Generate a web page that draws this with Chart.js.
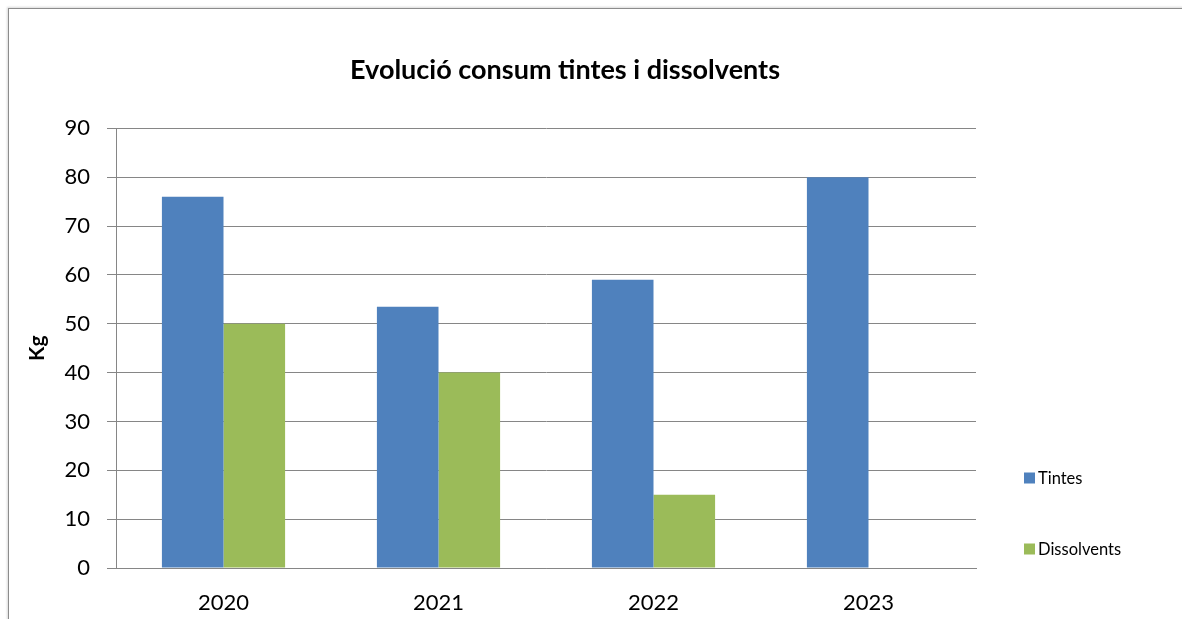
<!DOCTYPE html>
<html>
<head>
<meta charset="utf-8">
<script src="https://cdn.jsdelivr.net/npm/chart.js@4.4.0/dist/chart.umd.min.js"></script>
<style>
  html, body { margin: 0; padding: 0; background: #fff; overflow: hidden; }
  #wrap { position: relative; width: 1182px; height: 619px; }
  #frame { position: absolute; left: 8px; top: 8px; width: 1300px; height: 700px;
           border-left: 1px solid #8c8c8c; border-top: 1px solid #8c8c8c;
           box-shadow: -1px -1px 2px rgba(0,0,0,0.15); }
  canvas { position: absolute; left: 0; top: 0; }
</style>
</head>
<body>
<div id="wrap">
  <div id="frame"></div>
  <canvas id="barChart" width="1182" height="619"></canvas>
</div>
<script>
// Chart data
const years = ['2020', '2021', '2022', '2023'];
const tintes = [76, 53.5, 59, 80];
const dissolvents = [50, 40, 15, 0];
const seriesNames = ['Tintes', 'Dissolvents'];
const seriesColors = ['#4F81BD', '#9BBB59'];

const fontFamily = 'Lato, "Open Sans", sans-serif';

// Legend drawn at the right, like the original spreadsheet chart
const sideLegend = {
  id: 'sideLegend',
  afterLayout(chart) {
    // center the title over the whole frame, not only the plot
    if (chart.titleBlock) chart.titleBlock.right = 1130;
  },
  afterDraw(chart) {
    const ctx = chart.ctx;
    const rows = [478, 549];
    ctx.save();
    ctx.font = '16.5px ' + fontFamily;
    ctx.textBaseline = 'middle';
    ctx.textAlign = 'left';
    chart.data.datasets.forEach((ds, i) => {
      ctx.fillStyle = ds.backgroundColor;
      ctx.fillRect(1024, rows[i] - 5.5, 11, 11);
      ctx.fillStyle = '#000';
      ctx.fillText(ds.label, 1038, rows[i] + 1);
    });
    ctx.restore();
  }
};

new Chart(document.getElementById('barChart').getContext('2d'), {
  type: 'bar',
  data: {
    labels: years,
    datasets: [
      { label: seriesNames[0], data: tintes, backgroundColor: seriesColors[0], borderWidth: 0 },
      { label: seriesNames[1], data: dissolvents, backgroundColor: seriesColors[1], borderWidth: 0 }
    ]
  },
  options: {
    responsive: false,
    animation: false,
    layout: { padding: { left: 0, right: 206, top: 0, bottom: 0 } },
    datasets: { bar: { barPercentage: 1.0, categoryPercentage: 0.573 } },
    plugins: {
      legend: { display: false },
      tooltip: { enabled: false },
      title: {
        display: true,
        text: 'Evolució consum tintes i dissolvents',
        color: '#000',
        font: { family: fontFamily, size: 27, weight: 'bold' },
        padding: { top: 54, bottom: 42 }
      }
    },
    scales: {
      x: {
        grid: { display: false, drawTicks: false },
        border: { display: true, color: '#868686', width: 1 },
        ticks: { color: '#000', font: { family: fontFamily, size: 22 }, padding: 22 },
        afterFit(scale) { scale.height = 51; }
      },
      y: {
        min: 0,
        max: 90,
        ticks: { stepSize: 10, color: '#000', font: { family: fontFamily, size: 22 }, padding: 17 },
        grid: { color: '#868686', lineWidth: 1, tickLength: 9, drawTicks: true },
        border: { display: true, color: '#868686', width: 1 },
        title: {
          display: true,
          text: 'Kg',
          color: '#000',
          font: { family: fontFamily, size: 21, weight: 'bold' },
          padding: { top: 25, bottom: 0 }
        },
        afterFit(scale) { scale.width = 116; }
      }
    }
  },
  plugins: [sideLegend]
});
</script>
</body>
</html>
